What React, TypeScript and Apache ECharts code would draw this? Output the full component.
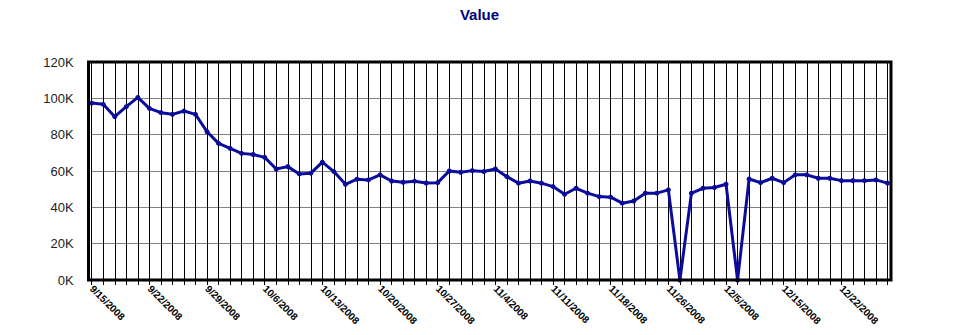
import React, { useEffect, useRef } from "react";
import * as echarts from "echarts";

const dates: string[] = [
  "9/15/2008", "9/16/2008", "9/17/2008", "9/18/2008", "9/19/2008",
  "9/22/2008", "9/23/2008", "9/24/2008", "9/25/2008", "9/26/2008",
  "9/29/2008", "9/30/2008", "10/1/2008", "10/2/2008", "10/3/2008",
  "10/6/2008", "10/7/2008", "10/8/2008", "10/9/2008", "10/10/2008",
  "10/13/2008", "10/14/2008", "10/15/2008", "10/16/2008", "10/17/2008",
  "10/20/2008", "10/21/2008", "10/22/2008", "10/23/2008", "10/24/2008",
  "10/27/2008", "10/28/2008", "10/29/2008", "10/30/2008", "11/3/2008",
  "11/4/2008", "11/5/2008", "11/6/2008", "11/7/2008", "11/10/2008",
  "11/11/2008", "11/12/2008", "11/13/2008", "11/14/2008", "11/17/2008",
  "11/18/2008", "11/19/2008", "11/20/2008", "11/21/2008", "11/25/2008",
  "11/26/2008", "11/27/2008", "11/28/2008", "12/1/2008", "12/3/2008",
  "12/5/2008", "12/8/2008", "12/9/2008", "12/10/2008", "12/11/2008",
  "12/15/2008", "12/16/2008", "12/17/2008", "12/18/2008", "12/19/2008",
  "12/22/2008", "12/23/2008", "12/24/2008", "12/26/2008", "12/29/2008",
];

const values: number[] = [
  97400, 96700, 89900, 95400, 100500, 94500, 92100, 91200, 93000, 91200,
  81600, 75200, 72500, 69700, 69100, 67500, 61100, 62400, 58400, 58800,
  64900, 59700, 52700, 55500, 55100, 57900, 54500, 53800, 54400, 53400,
  53600, 60000, 59300, 60200, 59700, 61100, 56900, 53300, 54500, 53300,
  51400, 47200, 50500, 47800, 45900, 45600, 42300, 43500, 47800, 47800,
  49600, 0, 47800, 50500, 50900, 52700, 0, 55600, 53600, 56000,
  53600, 57900, 57900, 56000, 56000, 54700, 54700, 54700, 55100, 53300,
];

const title = "Value";

export default function App() {
  const ref = useRef<HTMLDivElement>(null);
  useEffect(() => {
    document.body.style.margin = "0";
    const chart = echarts.init(ref.current!, null, { renderer: "svg" });
    const font = "Arial, 'Liberation Sans', sans-serif";
    chart.setOption({
      animation: false,
      backgroundColor: "#ffffff",
      title: {
        text: title,
        left: "center",
        top: 2,
        textStyle: { color: "#000080", fontSize: 15, fontWeight: "bold", fontFamily: font },
      },
      grid: { left: 91.7, right: 71.5, top: 62, bottom: 55, containLabel: false },
      xAxis: {
        type: "category",
        data: dates,
        boundaryGap: false,
        axisLine: { show: false },
        axisTick: { show: true, interval: 0, length: 5, lineStyle: { color: "#000", width: 1 } },
        axisLabel: {
          interval: 4,
          rotate: -45,
          margin: 7,
          fontSize: 10,
          fontWeight: "bold",
          color: "#000",
          fontFamily: font,
        },
        splitLine: { show: true, interval: 0, lineStyle: { color: "#000", width: 1 } },
      },
      yAxis: {
        type: "value",
        min: 0,
        max: 120000,
        interval: 20000,
        axisLine: { show: false },
        axisTick: { show: false },
        axisLabel: {
          formatter: (v: number) => v / 1000 + "K",
          fontSize: 13,
          color: "#222",
          margin: 18,
          fontFamily: font,
        },
        splitLine: { show: true, lineStyle: { color: "#808080", width: 1 } },
      },
      series: [
        {
          type: "line",
          data: values,
          symbol: "circle",
          symbolSize: 5,
          showAllSymbol: true,
          lineStyle: { color: "#0c0c9c", width: 3 },
          itemStyle: { color: "#0c0c9c" },
        },
      ],
      graphic: [
        {
          type: "rect",
          z: 100,
          shape: { x: 88.5, y: 62, width: 802.5, height: 218 },
          style: { fill: "none", stroke: "#000", lineWidth: 3 },
        },
      ],
    });
    return () => chart.dispose();
  }, []);
  return <div ref={ref} style={{ width: 959, height: 335 }} />;
}
